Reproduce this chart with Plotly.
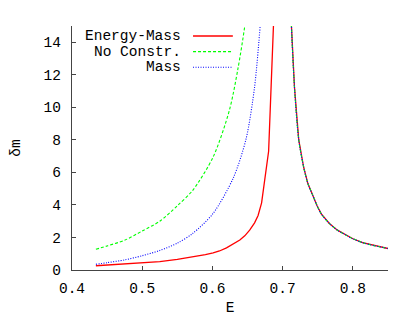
import plotly.graph_objects as go

# ---- data ----
E_energy_mass = [0.434, 0.45, 0.475, 0.5, 0.525, 0.55, 0.572, 0.59, 0.601, 0.61, 0.62, 0.63, 0.639, 0.646, 0.653, 0.66, 0.665, 0.67, 0.68, 0.69]
V_energy_mass = [0.26, 0.30, 0.36, 0.43, 0.52, 0.65, 0.8, 0.94, 1.05, 1.17, 1.36, 1.6, 1.84, 2.1, 2.45, 2.9, 3.35, 4.13, 7.3, 18.5]

E_no_constr = [0.434, 0.45, 0.475, 0.5, 0.525, 0.55, 0.572, 0.601, 0.624, 0.636, 0.646, 0.652]
V_no_constr = [1.27, 1.48, 1.83, 2.4, 3.0, 3.95, 4.9, 6.95, 9.8, 12.3, 15.0, 17.5]

E_mass = [0.434, 0.45, 0.475, 0.5, 0.525, 0.55, 0.572, 0.601, 0.63, 0.648, 0.66, 0.668, 0.673]
V_mass = [0.35, 0.45, 0.62, 0.88, 1.2, 1.65, 2.25, 3.48, 5.69, 8.08, 11.25, 15.0, 17.5]

# branch above the resonance (shared by all three curves)
E_right = [0.709, 0.7125, 0.7168, 0.7229, 0.73, 0.736, 0.7428, 0.749, 0.755, 0.7665, 0.778, 0.79, 0.80, 0.8138, 0.83, 0.85]
V_right = [20.0, 15.0, 11.25, 8.0, 6.3, 5.3, 4.6, 3.95, 3.45, 2.86, 2.45, 2.15, 1.92, 1.68, 1.5, 1.32]

series_names = ["Energy-Mass", "No Constr.", "Mass"]
x_ticks = [0.4, 0.5, 0.6, 0.7, 0.8]
y_ticks = [0, 2, 4, 6, 8, 10, 12, 14]

FONT = "Liberation Mono, Courier New, monospace"

styles = [
    dict(color="#ff0000", width=1.3, dash="solid"),
    dict(color="#00ff00", width=1.1, dash="3px,2px"),
    dict(color="#0000ff", width=1.1, dash="1px,1.5px"),
]
shapes_ = ["linear", "spline", "spline"]
data = [(E_energy_mass, V_energy_mass), (E_no_constr, V_no_constr), (E_mass, V_mass)]

fig = go.Figure()
for name, (ex, vy), st, shp in zip(series_names, data, styles, shapes_):
    fig.add_trace(go.Scatter(
        x=ex + [None] + E_right,
        y=vy + [None] + V_right,
        mode="lines", name=name, line=dict(**st, shape=shp, smoothing=0.8) if shp == "spline" else st,
        showlegend=False, connectgaps=False,
    ))

# legend drawn gnuplot-style: right-aligned text, sample line to the right
leg_y = [0.959, 0.895, 0.831]
for name, st, yy in zip(series_names, styles, leg_y):
    fig.add_annotation(x=0.352, y=yy, xref="paper", yref="paper", text=name,
                       showarrow=False, xanchor="right", yanchor="middle",
                       font=dict(family=FONT, size=14.5, color="#000"))
    fig.add_shape(type="line", xref="paper", yref="paper",
                  x0=0.383, x1=0.509, y0=yy, y1=yy,
                  line=dict(color=st["color"], width=st["width"], dash=st["dash"]))

axis_col = "#444444"
fig.update_xaxes(range=[0.4, 0.85], tickvals=x_ticks, ticktext=[f"{v:.1f}" for v in x_ticks],
                 showgrid=False, zeroline=False, showline=True, linecolor=axis_col, linewidth=1.2,
                 ticks="inside", ticklen=4, tickcolor=axis_col, ticklabelstandoff=4,
                 tickfont=dict(family=FONT, size=14.5, color="#000"),
                 title=dict(text="E", font=dict(family=FONT, size=14.5, color="#000"), standoff=10))
fig.update_yaxes(range=[0, 15], tickvals=y_ticks,
                 showgrid=False, zeroline=False, showline=True, linecolor=axis_col, linewidth=1.2,
                 ticks="inside", ticklen=4, tickcolor=axis_col, ticklabelstandoff=7,
                 tickfont=dict(family=FONT, size=14.5, color="#000"),
                 title=dict(text="δm", font=dict(family=FONT, size=14.5, color="#000"), standoff=20))

# the page body has an 8px default margin, so the figure is sized to fit the window
fig.update_layout(width=401, height=308, margin=dict(l=64, r=21, t=18, b=46),
                  plot_bgcolor="white", paper_bgcolor="white", showlegend=False)
fig.update_xaxes(automargin=False)
fig.update_yaxes(automargin=False)

fig.write_html("out.html")
